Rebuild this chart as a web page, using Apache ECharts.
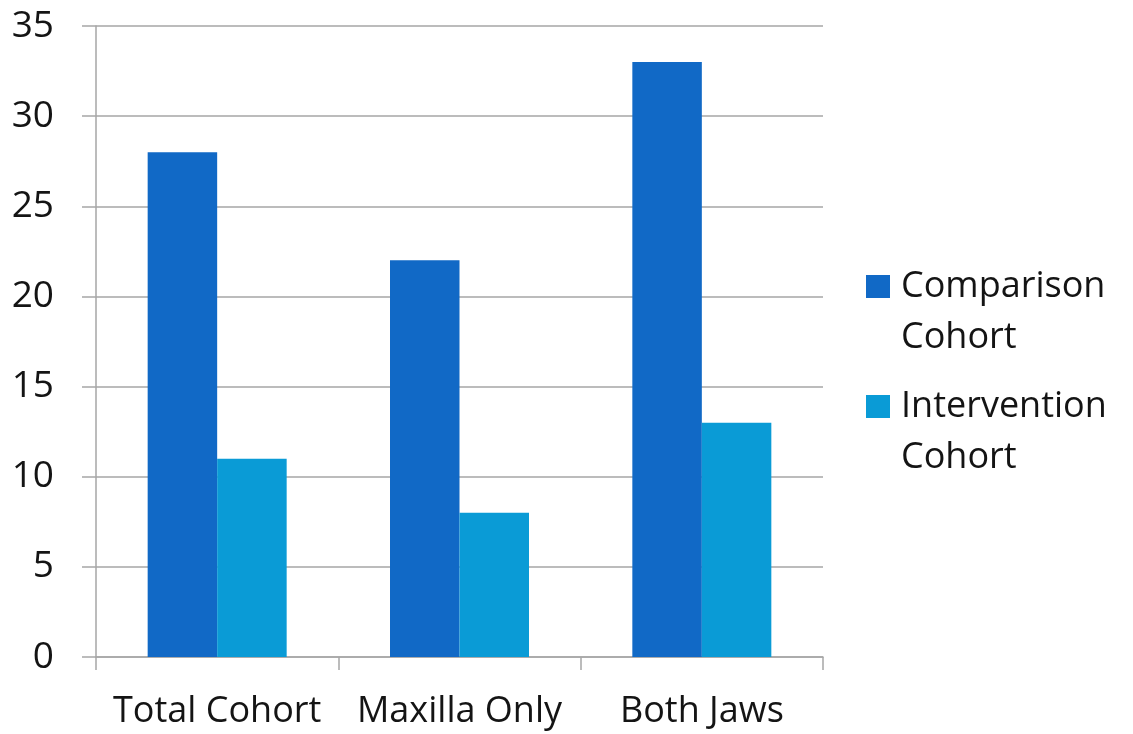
<!DOCTYPE html>
<html>
<head>
<meta charset="utf-8">
<script src="https://cdn.jsdelivr.net/npm/echarts@6/dist/echarts.min.js"></script>
<style>
html,body{margin:0;padding:0;background:#fff;}
#chart{width:1133px;height:734px;}
</style>
</head>
<body>
<div id="chart"></div>
<script>
const categories = ['Total Cohort', 'Maxilla Only', 'Both Jaws'];
const comparisonCohort = [28, 22, 33];
const interventionCohort = [11, 8, 13];
const seriesNames = ['Comparison\nCohort', 'Intervention\nCohort'];

const FONT = '"Open Sans", "Noto Sans", sans-serif';
const chart = echarts.init(document.getElementById('chart'));
chart.setOption({
  backgroundColor: '#ffffff',
  animation: false,
  grid: { left: 96, right: 310, top: 26, bottom: 77, containLabel: false },
  legend: {
    orient: 'vertical',
    left: 866,
    top: 210,
    padding: 0,
    itemWidth: 24,
    itemHeight: 23,
    itemGap: -33,
    icon: 'rect',
    data: seriesNames,
    formatter: function (name) { return ' \n' + name; },
    textStyle: {
      fontFamily: FONT,
      fontSize: 36,
      color: '#141414',
      lineHeight: 51,
      padding: [0, 0, 0, 6]
    }
  },
  xAxis: {
    type: 'category',
    data: categories,
    axisLine: { show: true, lineStyle: { color: '#a6a6a6', width: 1.5 } },
    axisTick: { show: true, length: 13, interval: 0, lineStyle: { color: '#a6a6a6', width: 1.5 } },
    axisLabel: { fontFamily: FONT, fontSize: 36, color: '#141414', margin: 37, interval: 0, hideOverlap: false }
  },
  yAxis: {
    type: 'value',
    min: 0,
    max: 35,
    interval: 5,
    axisLine: { show: true, lineStyle: { color: '#a6a6a6', width: 1.5 } },
    axisTick: { show: true, length: 14, lineStyle: { color: '#a6a6a6', width: 1.5 } },
    splitLine: { show: true, lineStyle: { color: '#a6a6a6', width: 1.5 } },
    axisLabel: { fontFamily: FONT, fontSize: 37, color: '#141414', margin: 42 }
  },
  series: [
    {
      name: seriesNames[0],
      type: 'bar',
      data: comparisonCohort,
      barWidth: 69.5,
      barGap: '0%',
      itemStyle: { color: '#1169c6' }
    },
    {
      name: seriesNames[1],
      type: 'bar',
      data: interventionCohort,
      barWidth: 69.5,
      barGap: '0%',
      itemStyle: { color: '#0a9bd6' }
    }
  ]
});
</script>
</body>
</html>
